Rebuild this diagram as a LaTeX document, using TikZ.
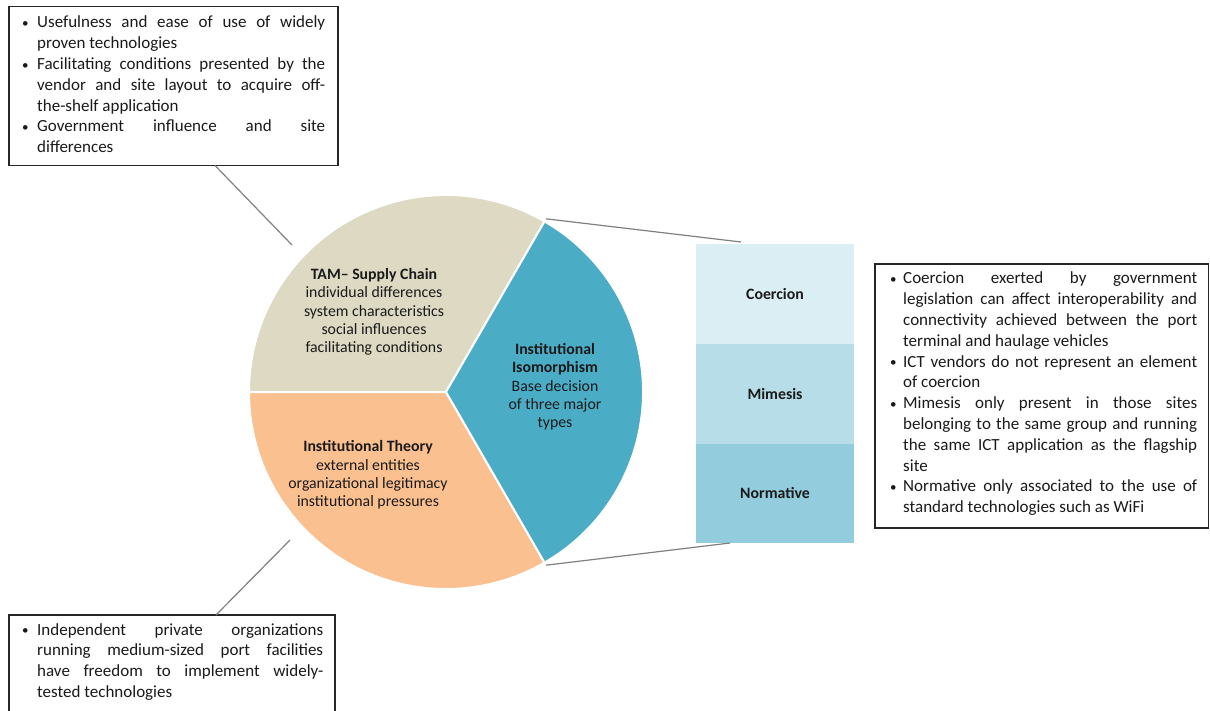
\documentclass[tikz,border=0pt]{standalone}
\usepackage{fontspec}
\setmainfont{Carlito}
\usetikzlibrary{calc}
\definecolor{tanc}{HTML}{DDD9C3}
\definecolor{orgc}{HTML}{FAC090}
\definecolor{bluc}{HTML}{4BACC6}
\definecolor{barA}{HTML}{DBEEF4}
\definecolor{barB}{HTML}{B7DEE8}
\definecolor{barC}{HTML}{93CDDD}
\definecolor{linec}{HTML}{808080}
\definecolor{txtc}{HTML}{1A1A1A}
\newlength\tw
\newlength\ind
\newcommand\ljust[1]{\hbox to\tw{\hbox to\ind{\raise0.5pt\hbox{\fontsize{13}{13}\selectfont •}\hfil}#1}}
\newcommand\lcont[1]{\hbox to\tw{\hskip\ind #1}}
\newcommand\lnat[1]{\hbox{\hskip\ind #1}}
\begin{document}
\begin{tikzpicture}[x=1pt,y=1pt,
  framebox/.style={draw=black!85, line width=1.3pt, anchor=north west, inner sep=0pt, outer sep=0pt},
  conn/.style={draw=linec, line width=1.2pt},
  wedge/.style={draw=white, line width=2pt, line join=round},
  pietext/.style={align=center, inner sep=0pt, text=txtc, font=\fontsize{15.8}{18.3}\selectfont},
  barbox/.style={minimum width=158pt, minimum height=99.5pt, anchor=north west, inner sep=0pt, outer sep=0pt, text=txtc, font=\bfseries\fontsize{15.8}{18.3}\selectfont},
  boxtext/.style={anchor=base west, inner sep=0pt, text=txtc, font=\fontsize{17}{20.8}\selectfont}]
\useasboundingbox (0,0) rectangle (1210,-711);
\fill[white] (0,0) rectangle (1210,-711);

% pie
\coordinate (C) at (446,-392);
\path[fill=tanc, wedge] (C) -- ($(C)+(60:197)$) arc[start angle=60, end angle=180, radius=197] -- cycle;
\path[fill=orgc, wedge] (C) -- ($(C)+(180:197)$) arc[start angle=180, end angle=300, radius=197] -- cycle;
\path[fill=bluc, wedge] (C) -- ($(C)+(-60:197)$) arc[start angle=-60, end angle=60, radius=197] -- cycle;

\node[pietext] (tam) at (374,-312) {\textbf{TAM– Supply Chain}\\individual differences\\system characteristics\\social influences\\facilitating conditions};
\node[pietext] (iso) at (555,-387) {\textbf{Institutional}\\\textbf{Isomorphism}\\Base decision\\of three major\\types};
\node[pietext] (inst) at (368,-475) {\textbf{Institutional Theory}\\external entities\\organizational legitimacy\\institutional pressures};

% bars
\node[barbox, fill=barA] (coer) at (696,-244.5) {Coercion};
\node[barbox, fill=barB] (mim) at (696,-344) {Mimesis};
\node[barbox, fill=barC] (norm) at (696,-443.5) {Normative};

% connector coordinates on the pie
\coordinate (ptop) at ($(C)+(60:200)$);
\coordinate (pbot) at ($(C)+(-60:200)$);
\coordinate (tlc) at (292,-245);
\coordinate (blc) at (290,-540);

\draw[conn] (ptop) -- ($(coer.north west)+(45,2.5)$);
\draw[conn] (pbot) -- ($(norm.south west)+(34,0)$);

% boxes
\node[framebox, minimum width=329pt, minimum height=159pt] (tl) at (9,-6.5) {};
\node[framebox, minimum width=333.5pt, minimum height=264pt] (rb) at (875,-264) {};
\node[framebox, minimum width=326pt, minimum height=120pt] (bl) at (9,-615) {};

\draw[conn] ($(tl.south west)+(206,0)$) -- (tlc);
\draw[conn] ($(bl.north west)+(207,0)$) -- (blc);

% box texts
\node[boxtext] (tltx) at (22,-28) {\setlength\tw{303pt}\setlength\ind{15pt}\vtop{\baselineskip=20.8pt
\ljust{Usefulness and ease of use of widely}
\lnat{proven technologies}
\ljust{Facilitating conditions presented by the}
\lcont{vendor and site layout to acquire off-}
\lnat{the-shelf application}
\ljust{Government influence and site}
\lnat{differences}}};

\node[boxtext] (rbtx) at (890,-284) {\setlength\tw{307pt}\setlength\ind{13pt}\vtop{\baselineskip=20.8pt
\ljust{Coercion exerted by government}
\lcont{legislation can affect interoperability and}
\lcont{connectivity achieved between the port}
\lnat{terminal and haulage vehicles}
\ljust{ICT vendors do not represent an element}
\lnat{of coercion}
\ljust{Mimesis only present in those sites}
\lcont{belonging to the same group and running}
\lcont{the same ICT application as the flagship}
\lnat{site}
\ljust{Normative only associated to the use of}
\lnat{standard technologies such as WiFi}}};

\node[boxtext] (bltx) at (22,-635) {\setlength\tw{301pt}\setlength\ind{15pt}\vtop{\baselineskip=20.8pt
\ljust{Independent private organizations}
\lcont{running medium-sized port facilities}
\lcont{have freedom to implement widely-}
\lnat{tested technologies}}};
\end{tikzpicture}
\end{document}
